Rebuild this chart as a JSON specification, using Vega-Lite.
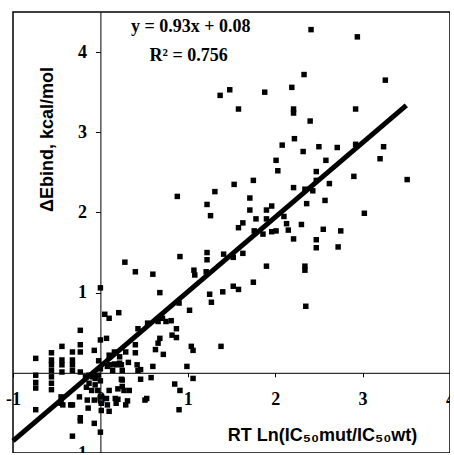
{
  "$schema": "https://vega.github.io/schema/vega-lite/v6.json",
  "width": 437,
  "height": 441,
  "autosize": {"type": "none"},
  "padding": {"left": 13, "top": 12, "right": 0, "bottom": 0},
  "background": "white",
  "config": {
    "view": {"stroke": "black", "strokeWidth": 1.5},
    "axis": {
      "grid": false,
      "domainColor": "black",
      "domainWidth": 1,
      "tickColor": "black",
      "labelColor": "black",
      "labelFont": "Liberation Serif",
      "labelFontWeight": "bold",
      "labelFontSize": 18,
      "labelOverlap": false,
      "labelBound": false,
      "labelFlush": false,
      "labelExpr": "datum.value < 0 ? '-' + abs(datum.value) : '' + datum.value",
      "titleFont": "Liberation Sans",
      "titleFontWeight": "bold",
      "titleFontSize": 18,
      "titleColor": "black"
    }
  },
  "datasets": {
    "pts": [
      {"x": 2.41, "y": 4.28}, {"x": 2.94, "y": 4.19}, {"x": 2.33, "y": 3.72}, {"x": 3.26, "y": 3.65},
      {"x": 1.37, "y": 3.46}, {"x": 1.48, "y": 3.53}, {"x": 1.88, "y": 3.5}, {"x": 2.19, "y": 3.56},
      {"x": 1.58, "y": 3.29}, {"x": 2.21, "y": 3.29}, {"x": 2.21, "y": 3.24}, {"x": 2.92, "y": 3.29},
      {"x": 2.4, "y": 3.14}, {"x": 2.22, "y": 2.92}, {"x": 2.08, "y": 2.84}, {"x": 2.32, "y": 2.76},
      {"x": 2.5, "y": 2.82}, {"x": 2.71, "y": 2.81}, {"x": 2.92, "y": 2.85}, {"x": 3.24, "y": 2.82},
      {"x": 2.01, "y": 2.65}, {"x": 2.58, "y": 2.65}, {"x": 3.2, "y": 2.67}, {"x": 2.03, "y": 2.52},
      {"x": 2.47, "y": 2.51}, {"x": 2.9, "y": 2.45}, {"x": 3.51, "y": 2.41}, {"x": 1.75, "y": 2.4},
      {"x": 2.47, "y": 2.4}, {"x": 2.62, "y": 2.36}, {"x": 2.21, "y": 2.31}, {"x": 2.34, "y": 2.29},
      {"x": 2.43, "y": 2.27}, {"x": 2.57, "y": 2.15}, {"x": 2.36, "y": 2.11}, {"x": 1.96, "y": 2.08},
      {"x": 1.9, "y": 2.03}, {"x": 3.02, "y": 1.99}, {"x": 2.1, "y": 1.95}, {"x": 1.78, "y": 1.92},
      {"x": 1.9, "y": 1.92}, {"x": 2.13, "y": 1.86}, {"x": 2.15, "y": 1.78}, {"x": 2.3, "y": 1.85},
      {"x": 1.96, "y": 1.76}, {"x": 2.01, "y": 1.77}, {"x": 1.86, "y": 1.73}, {"x": 2.55, "y": 1.79},
      {"x": 2.75, "y": 1.77}, {"x": 2.21, "y": 1.67}, {"x": 2.47, "y": 1.66}, {"x": 2.47, "y": 1.56},
      {"x": 2.72, "y": 1.57}, {"x": 1.9, "y": 1.33}, {"x": 2.34, "y": 1.33}, {"x": 2.34, "y": 1.28},
      {"x": 1.75, "y": 1.13}, {"x": 2.35, "y": 0.83}, {"x": 1.53, "y": 2.35}, {"x": 1.31, "y": 2.26},
      {"x": 0.88, "y": 2.2}, {"x": 1.71, "y": 2.18}, {"x": 1.22, "y": 2.1}, {"x": 1.26, "y": 1.96},
      {"x": 1.71, "y": 2.03}, {"x": 1.63, "y": 1.87}, {"x": 1.58, "y": 1.81}, {"x": 1.76, "y": 1.77},
      {"x": 0.28, "y": 1.38}, {"x": 0.4, "y": 1.26}, {"x": 0.6, "y": 1.23}, {"x": 0.91, "y": 1.45},
      {"x": 1.22, "y": 1.5}, {"x": 1.22, "y": 1.41}, {"x": 1.41, "y": 1.48}, {"x": 1.52, "y": 1.44},
      {"x": 1.63, "y": 1.49}, {"x": 1.07, "y": 1.28}, {"x": 1.08, "y": 1.22}, {"x": 1.21, "y": 1.26},
      {"x": 1.52, "y": 1.08}, {"x": 1.58, "y": 1.04}, {"x": 0.68, "y": 1.0}, {"x": 1.25, "y": 0.98},
      {"x": 1.27, "y": 0.88}, {"x": 1.4, "y": 1.01}, {"x": 0.21, "y": 0.75}, {"x": 1.02, "y": 0.78},
      {"x": 0.81, "y": 0.65}, {"x": 0.71, "y": 0.68}, {"x": 0.75, "y": 0.64}, {"x": 0.43, "y": 0.55},
      {"x": 0.68, "y": 0.43}, {"x": 0.87, "y": 0.55}, {"x": 0.87, "y": 0.44}, {"x": 0.82, "y": 0.47},
      {"x": 0.4, "y": 0.35}, {"x": 0.4, "y": 0.25}, {"x": 0.66, "y": 0.37}, {"x": 0.63, "y": 0.29},
      {"x": 0.72, "y": 0.23}, {"x": 1.04, "y": 0.33}, {"x": 1.06, "y": 0.28}, {"x": 1.38, "y": 0.33},
      {"x": 0.29, "y": 0.26}, {"x": 0.32, "y": 0.13}, {"x": 0.22, "y": 0.12}, {"x": 0.24, "y": 0.1},
      {"x": 0.42, "y": 0.1}, {"x": 0.43, "y": 0.03}, {"x": 0.46, "y": 0.04}, {"x": 0.6, "y": 0.08},
      {"x": 0.99, "y": 0.08}, {"x": 0.24, "y": -0.08}, {"x": 0.46, "y": -0.08}, {"x": 0.58, "y": -0.06},
      {"x": 1.06, "y": -0.07}, {"x": 0.85, "y": -0.14}, {"x": 0.91, "y": -0.22}, {"x": 0.2, "y": -0.2},
      {"x": 0.27, "y": -0.22}, {"x": 0.33, "y": -0.22}, {"x": 0.51, "y": -0.34}, {"x": 0.53, "y": -0.32},
      {"x": 0.2, "y": -0.33}, {"x": 0.31, "y": -0.35}, {"x": 0.29, "y": -0.4}, {"x": 0.9, "y": -0.46},
      {"x": 0.05, "y": 0.73}, {"x": 0.1, "y": 0.68}, {"x": -0.23, "y": 0.53}, {"x": 0.0, "y": 0.41},
      {"x": 0.07, "y": 0.43}, {"x": -0.44, "y": 0.33}, {"x": -0.23, "y": 0.35}, {"x": -0.23, "y": 0.26},
      {"x": -0.07, "y": 0.28}, {"x": -0.56, "y": 0.25}, {"x": -0.56, "y": 0.16}, {"x": -0.56, "y": 0.1},
      {"x": -0.56, "y": 0.03}, {"x": -0.56, "y": -0.05}, {"x": -0.56, "y": -0.13}, {"x": -0.56, "y": -0.21},
      {"x": -0.74, "y": 0.18}, {"x": -0.74, "y": -0.03}, {"x": -0.74, "y": -0.12}, {"x": -0.74, "y": -0.19},
      {"x": -0.44, "y": 0.16}, {"x": -0.44, "y": 0.1}, {"x": -0.44, "y": 0.01}, {"x": -0.32, "y": 0.26},
      {"x": -0.32, "y": 0.16}, {"x": -0.32, "y": 0.1}, {"x": -0.32, "y": 0.03}, {"x": -0.23, "y": 0.01},
      {"x": -0.17, "y": -0.05}, {"x": -0.13, "y": -0.03}, {"x": -0.09, "y": -0.05}, {"x": -0.06, "y": -0.07},
      {"x": -0.03, "y": -0.03}, {"x": -0.13, "y": -0.13}, {"x": -0.06, "y": -0.15}, {"x": -0.03, "y": -0.22},
      {"x": -0.1, "y": -0.22}, {"x": -0.16, "y": -0.18}, {"x": -0.45, "y": -0.3}, {"x": -0.45, "y": -0.38},
      {"x": -0.34, "y": -0.4}, {"x": -0.24, "y": -0.3}, {"x": -0.15, "y": -0.34}, {"x": -0.23, "y": -0.56},
      {"x": -0.23, "y": -0.6}, {"x": -0.14, "y": -0.44}, {"x": -0.07, "y": -0.34}, {"x": 0.01, "y": -0.3},
      {"x": 0.01, "y": -0.38}, {"x": 0.01, "y": -0.47}, {"x": 0.07, "y": -0.32}, {"x": 0.08, "y": -0.4},
      {"x": 0.1, "y": -0.48}, {"x": 0.17, "y": -0.32}, {"x": 0.18, "y": -0.38}, {"x": -0.74, "y": -0.46},
      {"x": -0.32, "y": -0.79}, {"x": 0.0, "y": -0.74}, {"x": 0.1, "y": -0.22}, {"x": 0.08, "y": 0.08},
      {"x": 0.14, "y": 0.03}, {"x": 0.18, "y": 0.1}, {"x": 0.1, "y": 0.22}, {"x": 0.16, "y": 0.26},
      {"x": 0.22, "y": 0.2}, {"x": 0.0, "y": 1.06}, {"x": 0.25, "y": 0.03}, {"x": 0.25, "y": -0.09},
      {"x": 0.25, "y": -0.17}, {"x": 0.16, "y": 0.11}, {"x": 0.11, "y": 0.1}, {"x": -0.07, "y": -0.63},
      {"x": -0.43, "y": -0.4}, {"x": -0.32, "y": -0.4}, {"x": 0.0, "y": 0.05}, {"x": 0.0, "y": -0.1},
      {"x": -0.02, "y": 0.15}, {"x": 0.54, "y": 0.62}, {"x": 0.66, "y": 0.64}, {"x": 0.9, "y": 0.87}
    ],
    "fit": [
      {"x": -1.0, "y": -0.85},
      {"x": 3.5, "y": 3.335}
    ],
    "notes": [
      {"x": 1.035, "y": 4.31, "label": "y = 0.93x + 0.08"},
      {"x": 1.01, "y": 3.95, "label": "R² = 0.756"}
    ]
  },
  "layer": [
    {
      "data": {"name": "pts"},
      "mark": {"type": "point", "shape": "square", "filled": true, "color": "black", "size": 30, "opacity": 1},
      "encoding": {
        "x": {
          "field": "x", "type": "quantitative",
          "scale": {"domain": [-1, 4], "nice": false, "zero": false},
          "axis": {
            "orient": "bottom", "offset": -80.2, "values": [-1, 0, 1, 2, 3, 4],
            "tickSize": 4, "labelPadding": 14,
            "title": "RT Ln(IC₅₀mut/IC₅₀wt)",
            "titleX": 309, "titleY": 63, "titleAlign": "center", "titleBaseline": "middle"
          }
        },
        "y": {
          "field": "y", "type": "quantitative",
          "scale": {"domain": [-1, 4.5], "nice": false, "zero": false},
          "axis": {
            "orient": "left", "offset": -87.4, "values": [-1, 1, 2, 3, 4],
            "tickSize": 5, "labelPadding": 9,
            "title": "ΔEbind, kcal/mol",
            "titleX": -53, "titleY": 127, "titleAngle": -90, "titleAlign": "center", "titleBaseline": "middle"
          }
        }
      }
    },
    {
      "data": {"name": "fit"},
      "mark": {"type": "line", "color": "black", "strokeWidth": 5},
      "encoding": {
        "x": {"field": "x", "type": "quantitative"},
        "y": {"field": "y", "type": "quantitative"}
      }
    },
    {
      "data": {"name": "notes"},
      "mark": {"type": "text", "font": "Liberation Serif", "fontWeight": "bold", "fontSize": 18, "color": "black", "align": "center", "baseline": "middle"},
      "encoding": {
        "x": {"field": "x", "type": "quantitative"},
        "y": {"field": "y", "type": "quantitative"},
        "text": {"field": "label"}
      }
    }
  ]
}
